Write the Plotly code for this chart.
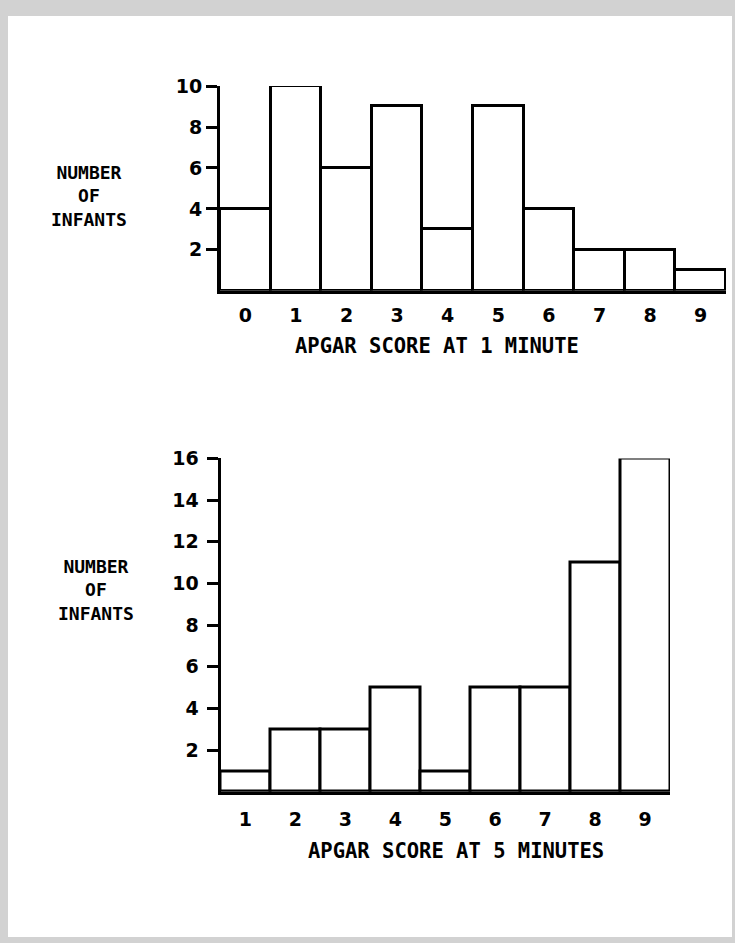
import plotly.graph_objects as go

W, H = 735, 943

scores_1min = [0, 1, 2, 3, 4, 5, 6, 7, 8, 9]
infants_1min = [4, 10, 6, 9, 3, 9, 4, 2, 2, 1]
yticks_1min = [2, 4, 6, 8, 10]

scores_5min = [1, 2, 3, 4, 5, 6, 7, 8, 9]
infants_5min = [1, 3, 3, 5, 1, 5, 5, 11, 16]
yticks_5min = [2, 4, 6, 8, 10, 12, 14, 16]

xtitle_1 = "APGAR SCORE AT 1 MINUTE"
xtitle_2 = "APGAR SCORE AT 5 MINUTES"
ytitle_lines = ["NUMBER", "OF", "INFANTS"]

LABEL_FONT = "DejaVu Sans Mono"
TICK_FONT = "DejaVu Sans"


def px_x(v):
    return v / W


def px_y(v):
    return 1 - v / H


fig = go.Figure()

bar_style = dict(marker=dict(color="white", line=dict(color="black", width=3)),
                 width=1.0, cliponaxis=False, showlegend=False, hoverinfo="x+y")

fig.add_trace(go.Bar(x=scores_1min, y=infants_1min, xaxis="x", yaxis="y", **bar_style))
fig.add_trace(go.Bar(x=scores_5min, y=infants_5min, xaxis="x2", yaxis="y2", **bar_style))

axis_common = dict(showgrid=False, zeroline=False, linecolor="black", linewidth=3,
                   tickfont=dict(family=TICK_FONT, size=19, color="black", weight="bold"))

fig.update_layout(
    width=W, height=H,
    margin=dict(l=0, r=0, t=0, b=0),
    paper_bgcolor="#d2d2d2",
    plot_bgcolor="rgba(0,0,0,0)",
    bargap=0,
    xaxis=dict(domain=[px_x(220), px_x(726)], anchor="y", range=[-0.5, 9.5],
               tickvals=scores_1min, ticks="", showline=True,
               ticklabelstandoff=6, **axis_common),
    yaxis=dict(domain=[px_y(283), px_y(76)], anchor="x", range=[0, 10],
               tickvals=yticks_1min, ticks="outside", ticklen=11, tickwidth=3,
               tickcolor="black", showline=True, ticklabelstandoff=0, **axis_common),
    xaxis2=dict(domain=[px_x(220.5), px_x(670)], anchor="y2", range=[0.5, 9.5],
                tickvals=scores_5min, ticks="", showline=True,
                ticklabelstandoff=8, **axis_common),
    yaxis2=dict(domain=[px_y(790), px_y(452.7)], anchor="x2", range=[0, 16],
                tickvals=yticks_5min, ticks="outside", ticklen=11, tickwidth=3,
                tickcolor="black", showline=True, ticklabelstandoff=4, **axis_common),
    shapes=[dict(type="rect", xref="paper", yref="paper", layer="below",
                 x0=px_x(8), x1=px_x(732), y0=px_y(937), y1=px_y(5),
                 fillcolor="white", line=dict(width=0))],
)

ann_font = dict(family=LABEL_FONT, size=18, color="black", weight="bold")
title_font = dict(family=LABEL_FONT, size=20.5, color="black", weight="bold")
ytitle = "<br>".join(ytitle_lines)

fig.add_annotation(text=ytitle, x=px_x(89), y=px_y(187), xref="paper", yref="paper",
                   showarrow=False, align="center", font=ann_font,
                   xanchor="center", yanchor="middle")
fig.add_annotation(text=ytitle, x=px_x(96), y=px_y(586), xref="paper", yref="paper",
                   showarrow=False, align="center", font=ann_font,
                   xanchor="center", yanchor="middle")
fig.add_annotation(text=xtitle_1, x=px_x(437), y=px_y(339), xref="paper", yref="paper",
                   showarrow=False, font=title_font, xanchor="center", yanchor="middle")
fig.add_annotation(text=xtitle_2, x=px_x(456), y=px_y(850), xref="paper", yref="paper",
                   showarrow=False, font=title_font, xanchor="center", yanchor="middle")

fig.write_html("out.html", config={"displayModeBar": False},
               post_script="document.body.style.margin='0';document.body.style.overflow='hidden';")
